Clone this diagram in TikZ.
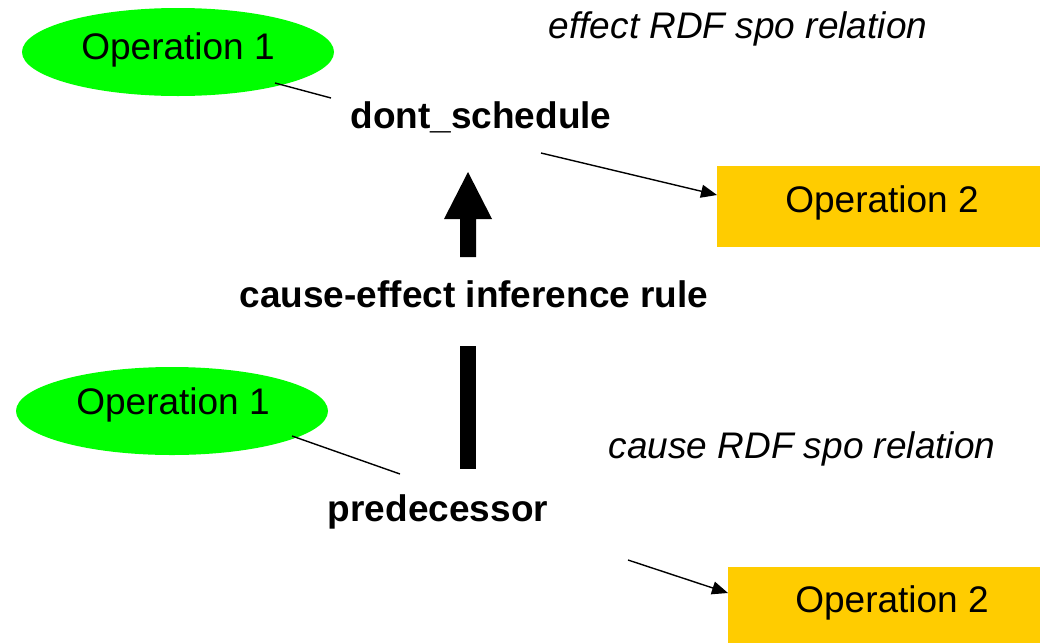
\documentclass[tikz,border=0pt]{standalone}
\usepackage{fontspec}
\setmainfont{Liberation Sans}
\usetikzlibrary{arrows.meta,shapes.geometric}
\definecolor{opgreen}{RGB}{0,255,0}
\definecolor{opyellow}{RGB}{255,204,0}
\begin{document}
\begin{tikzpicture}[x=1pt,y=-1pt,
  lbl/.style={inner sep=0pt,font=\fontsize{37}{42}\selectfont},
  boldlbl/.style={lbl,font=\fontsize{37}{42}\selectfont\bfseries},
  itlbl/.style={lbl,font=\fontsize{37}{42}\selectfont\itshape},
  opone/.style={ellipse,fill=opgreen,minimum width=312pt,minimum height=88pt,inner sep=0pt},
  optwo/.style={rectangle,fill=opyellow,inner sep=0pt,anchor=north west},
  conn/.style={line width=1.4pt},
  arr/.style={conn,-{Triangle[width=13pt,length=16pt]}}
]
\useasboundingbox (0,0) rectangle (1040,643);
% top
\node[opone] (e1) at (178,52) {};
\node[lbl] (e1t) at (178,50) {Operation 1};
\node[itlbl] (eff) at (738,29) {effect RDF spo relation};
\node[boldlbl] (ds) at (481,117) {dont\_schedule};
\node[optwo,minimum width=323pt,minimum height=81pt] (r1) at (717,166) {};
\node[lbl] (r1t) at (882,203) {Operation 2};
\coordinate (a1) at (275,83);
\coordinate (a2) at (331,98);
\draw[conn] (a1) -- (a2);
\coordinate (b1) at (541,153);
\draw[arr] (b1) -- (r1.west |- 0,195);
% middle
\node[boldlbl] (rule) at (474,294) {cause-effect inference rule};
\fill (460,257) -- (460,219) -- (444,219) -- (468,172) -- (492,219) -- (476,219) -- (476,257) -- cycle;
\fill (460,346) rectangle (476,469);
% bottom
\node[opone] (e2) at (172,411) {};
\node[lbl] (e2t) at (173,405) {Operation 1};
\node[itlbl] (cau) at (802,449) {cause RDF spo relation};
\node[boldlbl] (pred) at (438,512) {predecessor};
\node[optwo,minimum width=312pt,minimum height=76pt] (r2) at (728,567) {};
\node[lbl] (r2t) at (892,603) {Operation 2};
\coordinate (c1) at (292,436);
\coordinate (c2) at (400,474);
\draw[conn] (c1) -- (c2);
\coordinate (d1) at (628,560);
\draw[arr] (d1) -- (r2.west |- 0,593);
\end{tikzpicture}
\end{document}
